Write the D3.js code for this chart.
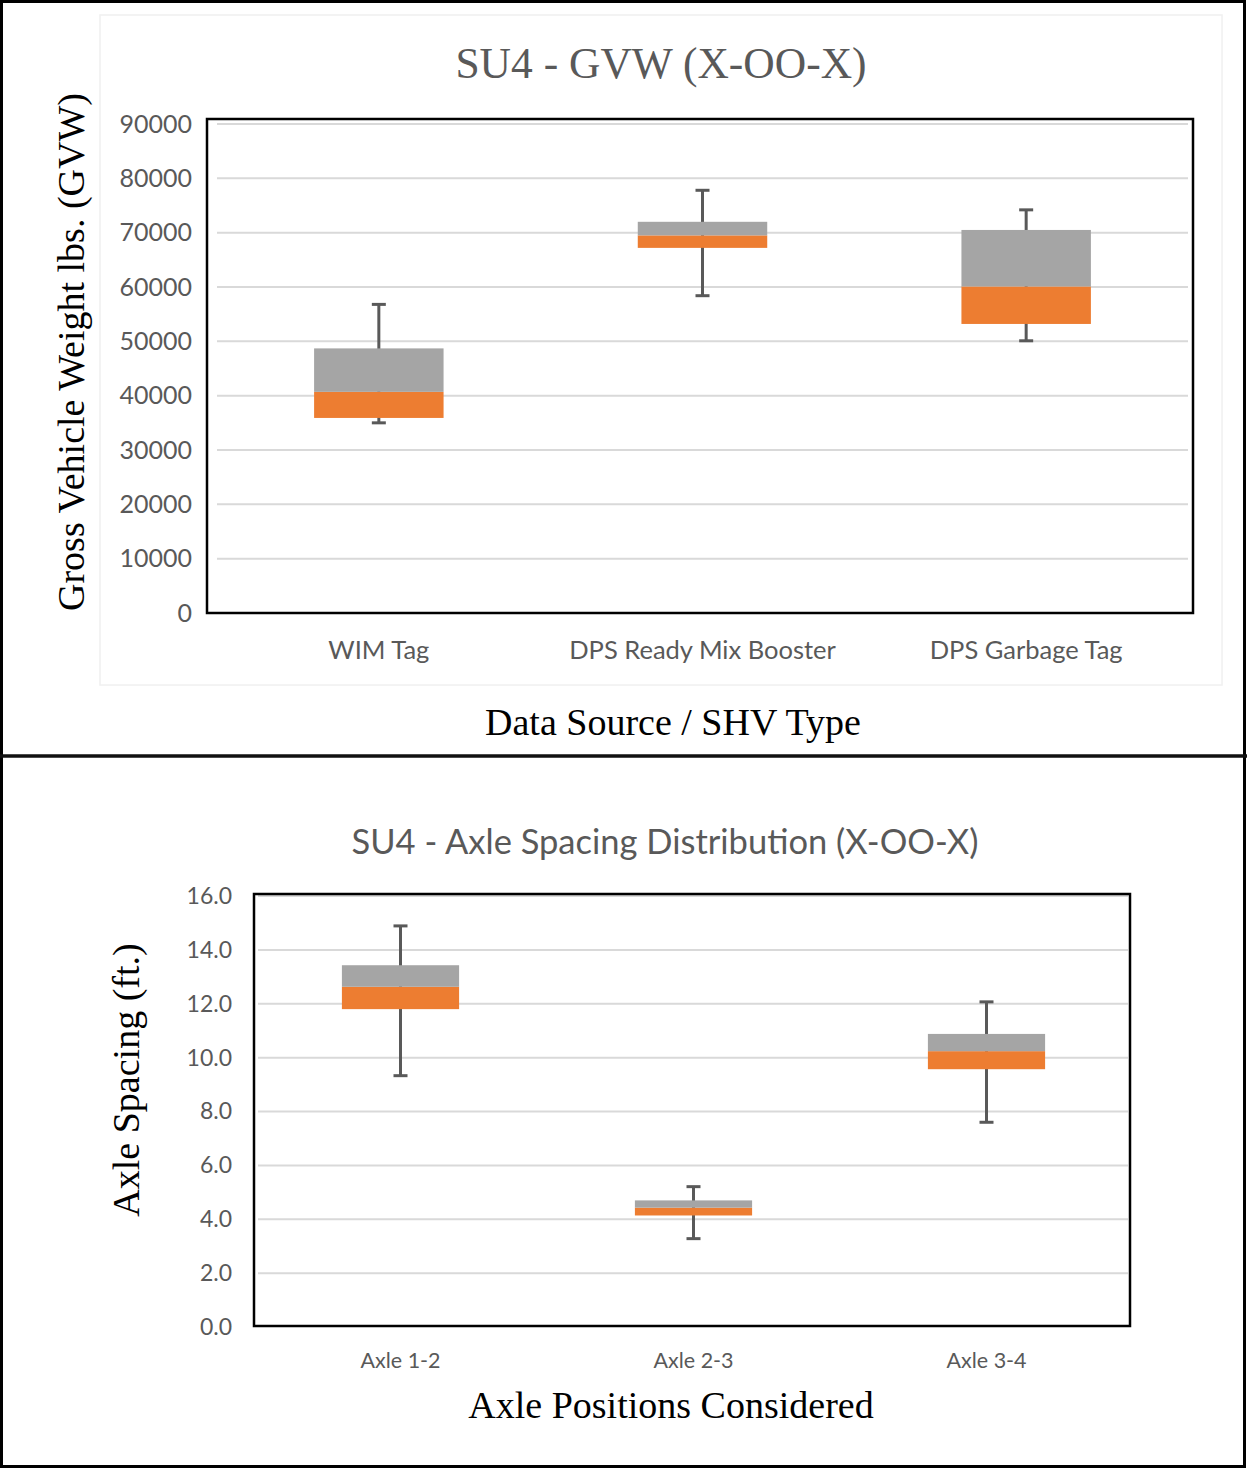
<!DOCTYPE html>
<html>
<head>
<meta charset="utf-8">
<script src="https://cdn.jsdelivr.net/npm/d3@7"></script>
<style>
  body { margin: 0; background: #fff; }
  .tick line { display: none; }
  .domain { display: none; }
</style>
</head>
<body>
<div class="graph"></div>
<script>
// Top chart data: GVW by data source
var gvwCategories = ["WIM Tag", "DPS Ready Mix Booster", "DPS Garbage Tag"];
var gvwLow = [35000, 58400, 50100];
var gvwQ1 = [35900, 67200, 53200];
var gvwMedian = [40700, 69500, 60100];
var gvwQ3 = [48700, 72000, 70500];
var gvwHigh = [56800, 77800, 74200];
var gvwTicks = [0, 10000, 20000, 30000, 40000, 50000, 60000, 70000, 80000, 90000];

// Bottom chart data: axle spacing
var axleCategories = ["Axle 1-2", "Axle 2-3", "Axle 3-4"];
var axleLow = [9.33, 3.28, 7.6];
var axleQ1 = [11.8, 4.14, 9.57];
var axleMedian = [12.63, 4.43, 10.24];
var axleQ3 = [13.43, 4.7, 10.88];
var axleHigh = [14.89, 5.21, 12.07];
var axleTicks = [0, 2, 4, 6, 8, 10, 12, 14, 16];

var width = 1247;
var height = 1468;
var grey = "#595959";
var boxGrey = "#a5a5a5";
var orange = "#ed7d31";
var serif = "'Liberation Serif', 'Times New Roman', serif";
var sans = "Lato, 'Open Sans', sans-serif";

var svg = d3.select(".graph").append("svg")
    .attr("width", width)
    .attr("height", height)
    .style("display", "block");

// outer frame and separator
svg.append("rect")
    .attr("x", 1.5).attr("y", 1.5)
    .attr("width", width - 4).attr("height", height - 3)
    .attr("fill", "none").attr("stroke", "#000").attr("stroke-width", 3);
svg.append("line")
    .attr("x1", 0).attr("x2", width)
    .attr("y1", 756).attr("y2", 756)
    .attr("stroke", "#111").attr("stroke-width", 3.5);

// faint chart area outline of the top chart
svg.append("rect")
    .attr("x", 100).attr("y", 15)
    .attr("width", 1122).attr("height", 670)
    .attr("fill", "none").attr("stroke", "#f0f0f0").attr("stroke-width", 1.5);

function boxChart(cfg) {
    var g = svg.append("g");
    var x = d3.scaleBand()
        .domain(cfg.categories)
        .range(cfg.xRange);
    var y = d3.scaleLinear()
        .domain(cfg.domain)
        .range(cfg.yRange);

    // gridlines
    g.selectAll("line.grid").data(cfg.ticks.slice(1))
        .enter().append("line")
        .attr("class", "grid")
        .attr("x1", cfg.gridX[0]).attr("x2", cfg.gridX[1])
        .attr("y1", function (d) { return y(d); })
        .attr("y2", function (d) { return y(d); })
        .attr("stroke", "#d9d9d9").attr("stroke-width", 2);

    var rows = cfg.categories.map(function (c, i) {
        return {cat: c, low: cfg.low[i], q1: cfg.q1[i], med: cfg.median[i], q3: cfg.q3[i], high: cfg.high[i]};
    });
    var bw = x.bandwidth() * 0.4;

    // whiskers
    var wh = g.selectAll("g.whisker").data(rows).enter().append("g")
        .attr("stroke", grey).attr("stroke-width", 3);
    wh.append("line")
        .attr("x1", function (d) { return x(d.cat) + x.bandwidth() / 2; })
        .attr("x2", function (d) { return x(d.cat) + x.bandwidth() / 2; })
        .attr("y1", function (d) { return y(d.low); })
        .attr("y2", function (d) { return y(d.high); });
    ["low", "high"].forEach(function (k) {
        wh.append("line")
            .attr("x1", function (d) { return x(d.cat) + x.bandwidth() / 2 - 7; })
            .attr("x2", function (d) { return x(d.cat) + x.bandwidth() / 2 + 7; })
            .attr("y1", function (d) { return y(d[k]); })
            .attr("y2", function (d) { return y(d[k]); });
    });

    // lower box (orange) and upper box (grey)
    g.selectAll("rect.lower").data(rows).enter().append("rect")
        .attr("x", function (d) { return x(d.cat) + (x.bandwidth() - bw) / 2; })
        .attr("width", bw)
        .attr("y", function (d) { return y(d.med); })
        .attr("height", function (d) { return y(d.q1) - y(d.med); })
        .attr("fill", orange);
    g.selectAll("rect.upper").data(rows).enter().append("rect")
        .attr("x", function (d) { return x(d.cat) + (x.bandwidth() - bw) / 2; })
        .attr("width", bw)
        .attr("y", function (d) { return y(d.q3); })
        .attr("height", function (d) { return y(d.med) - y(d.q3); })
        .attr("fill", boxGrey);

    // plot border
    g.append("rect")
        .attr("x", cfg.border[0]).attr("y", cfg.border[1])
        .attr("width", cfg.border[2] - cfg.border[0])
        .attr("height", cfg.border[3] - cfg.border[1])
        .attr("fill", "none").attr("stroke", "#000").attr("stroke-width", 2.5);

    // axes
    g.append("g")
        .attr("transform", "translate(" + cfg.yAxisX + ",0)")
        .call(d3.axisLeft(y).tickValues(cfg.ticks).tickSize(0).tickPadding(0).tickFormat(cfg.format))
        .call(function (a) {
            a.selectAll("text")
                .attr("fill", grey)
                .style("font-family", sans)
                .style("font-size", cfg.tickSize + "px");
        });
    g.append("g")
        .attr("transform", "translate(0," + cfg.xAxisY + ")")
        .call(d3.axisBottom(x).tickSize(0).tickPadding(0))
        .call(function (a) {
            a.selectAll("text")
                .attr("fill", grey)
                .attr("dy", 0)
                .style("font-family", sans)
                .style("font-size", cfg.catSize + "px");
        });

    // titles
    g.append("text")
        .attr("x", cfg.title.x).attr("y", cfg.title.y)
        .attr("text-anchor", "middle")
        .attr("fill", grey)
        .style("font-family", cfg.title.font)
        .style("font-size", cfg.title.size + "px")
        .text(cfg.title.text);
    g.append("text")
        .attr("transform", "translate(" + cfg.yTitle.x + "," + cfg.yTitle.y + ") rotate(-90)")
        .attr("text-anchor", "middle")
        .attr("fill", "#000")
        .style("font-family", serif)
        .style("font-size", "38px")
        .text(cfg.yTitle.text);
    g.append("text")
        .attr("x", cfg.xTitle.x).attr("y", cfg.xTitle.y)
        .attr("text-anchor", "middle")
        .attr("fill", "#000")
        .style("font-family", serif)
        .style("font-size", "38px")
        .text(cfg.xTitle.text);
}

boxChart({
    categories: gvwCategories,
    low: gvwLow, q1: gvwQ1, median: gvwMedian, q3: gvwQ3, high: gvwHigh,
    ticks: gvwTicks,
    domain: [0, 90000],
    xRange: [217, 1188],
    yRange: [613, 124],
    gridX: [217, 1188],
    border: [207, 119, 1193, 613],
    yAxisX: 192,
    xAxisY: 659,
    tickSize: 25,
    catSize: 25.5,
    format: d3.format("d"),
    title: {text: "SU4 - GVW (X-OO-X)", x: 661, y: 78, size: 43.5, font: serif},
    yTitle: {text: "Gross Vehicle Weight lbs. (GVW)", x: 84, y: 352},
    xTitle: {text: "Data Source / SHV Type", x: 673, y: 735}
});

boxChart({
    categories: axleCategories,
    low: axleLow, q1: axleQ1, median: axleMedian, q3: axleQ3, high: axleHigh,
    ticks: axleTicks,
    domain: [0, 16],
    xRange: [254, 1133],
    yRange: [1327, 896],
    gridX: [258, 1128],
    border: [254, 894, 1130, 1326],
    yAxisX: 232,
    xAxisY: 1368,
    tickSize: 23,
    catSize: 21.5,
    format: d3.format(".1f"),
    title: {text: "SU4 - Axle Spacing Distribution (X-OO-X)", x: 665, y: 854, size: 34.5, font: sans},
    yTitle: {text: "Axle Spacing (ft.)", x: 139, y: 1080},
    xTitle: {text: "Axle Positions Considered", x: 671, y: 1418}
});
</script>
</body>
</html>
